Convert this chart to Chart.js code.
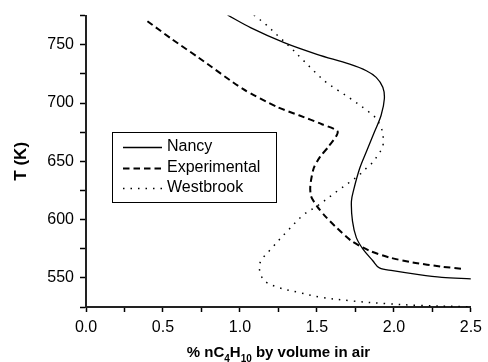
<!DOCTYPE html>
<html><head><meta charset="utf-8">
<script src="https://cdn.jsdelivr.net/npm/chart.js@4.4.0/dist/chart.umd.min.js"></script>
<style>html,body{margin:0;padding:0;background:#fff;}#wrap{width:488px;height:362px;}</style>
</head><body><div id="wrap"><canvas id="c" width="488" height="362"></canvas></div>
<script>
const seriesNames = ['Nancy', 'Experimental', 'Westbrook'];

const nancyX = [0.919, 1.072, 1.287, 1.5, 1.713, 1.821, 1.885, 1.928, 1.938, 1.917, 1.874, 1.821, 1.778, 1.739, 1.724, 1.731, 1.756, 1.799, 1.863, 1.906, 1.992, 2.162, 2.312, 2.5];
const nancyT = [775.5, 764.5, 751.8, 741.8, 733.3, 727.7, 722, 713.5, 703.6, 689.5, 675.3, 658.2, 644, 625.7, 615.7, 598.7, 584.5, 574.7, 564.7, 558.5, 556.2, 552.8, 550.5, 549.1];

const expX = [0.399, 0.56, 0.731, 1.019, 1.244, 1.383, 1.532, 1.635, 1.575, 1.521, 1.479, 1.457, 1.462, 1.5, 1.553, 1.628, 1.724, 1.842, 1.970, 2.12, 2.312, 2.451];
const expT = [770.2, 754.6, 739, 712.1, 696.5, 689.5, 681.8, 675.3, 662.5, 654, 644, 629, 620, 611.5, 603, 593, 581.7, 573.2, 567.5, 563.3, 559.6, 557.7];

const westX = [1.09, 1.169, 1.248, 1.325, 1.404, 1.485, 1.56, 1.639, 1.72, 1.838, 1.885, 1.923, 1.931, 1.923, 1.895, 1.867, 1.825, 1.788, 1.713, 1.639, 1.5, 1.415, 1.308, 1.201, 1.137, 1.126, 1.158, 1.244, 1.372, 1.521, 1.735, 1.949, 2.162, 2.5];
const westT = [775.5, 767.3, 757.5, 748.1, 737.6, 726.9, 717.8, 710.7, 703.6, 692.3, 686.6, 676.7, 666.7, 661, 655.4, 649.7, 644.6, 639.8, 632.1, 625.1, 611.5, 604.4, 590.2, 574.7, 564.7, 557.7, 547.7, 542, 537.8, 533.5, 530.1, 527.9, 526.4, 525.2];

const xLabelTicks = [0, 0.5, 1.0, 1.5, 2.0, 2.5];
const yLabelTicks = [550, 600, 650, 700, 750];
const xTitleParts = [['% nC', false], ['4', true], ['H', false], ['10', true], [' by volume in air', false]];
const yTitle = 'T (K)';

const FONT = "'Liberation Sans', Arial, sans-serif";
const toPts = (xs, ys) => xs.map((x, i) => ({x: x, y: ys[i]}));

const decor = {
  id: 'decor',
  afterDraw(chart) {
    const ctx = chart.ctx;
    ctx.save();
    ctx.fillStyle = '#000';
    // y title
    ctx.font = 'bold 17px ' + FONT;
    ctx.textAlign = 'center';
    ctx.textBaseline = 'middle';
    ctx.translate(21, (chart.chartArea.top + chart.chartArea.bottom) / 2);
    ctx.rotate(-Math.PI / 2);
    ctx.fillText(yTitle, 0, 0);
    ctx.setTransform(1, 0, 0, 1, 0, 0);
    // x title with subscripts
    const big = 'bold 15px ' + FONT, small = 'bold 10px ' + FONT;
    let w = 0;
    xTitleParts.forEach(p => { ctx.font = p[1] ? small : big; w += ctx.measureText(p[0]).width; });
    let x = (chart.chartArea.left + chart.chartArea.right) / 2 - w / 2;
    const base = 356.5;
    ctx.textAlign = 'left';
    ctx.textBaseline = 'alphabetic';
    xTitleParts.forEach(p => {
      ctx.font = p[1] ? small : big;
      ctx.fillText(p[0], x, p[1] ? base + 5 : base);
      x += ctx.measureText(p[0]).width;
    });
    // legend
    const L = 112, T = 132, R = 276, B = 202;
    ctx.strokeStyle = '#000';
    ctx.lineWidth = 1;
    ctx.setLineDash([]);
    ctx.strokeRect(L + 0.5, T + 0.5, R - L, B - T);
    const rows = [147, 168, 188];
    ctx.font = '16px ' + FONT;
    ctx.textBaseline = 'middle';
    chart.data.datasets.forEach((ds, i) => {
      ctx.beginPath();
      ctx.lineWidth = ds.borderWidth;
      ctx.setLineDash(ds.borderDash || []);
      ctx.moveTo(123, rows[i] + 0.5);
      ctx.lineTo(162, rows[i] + 0.5);
      ctx.stroke();
      ctx.setLineDash([]);
      ctx.fillText(ds.label, 167, rows[i]);
    });
    ctx.restore();
  }
};

new Chart(document.getElementById('c'), {
  type: 'scatter',
  data: {
    datasets: [
      {label: seriesNames[0], data: toPts(nancyX, nancyT), showLine: true, pointRadius: 0, borderColor: '#000', borderWidth: 1.3, tension: 0.35, fill: false},
      {label: seriesNames[1], data: toPts(expX, expT), showLine: true, pointRadius: 0, borderColor: '#000', borderWidth: 2, borderDash: [6.5, 4], tension: 0.25, fill: false},
      {label: seriesNames[2], data: toPts(westX, westT), showLine: true, pointRadius: 0, borderColor: '#000', borderWidth: 1.5, borderDash: [1.5, 6], tension: 0.35, fill: false}
    ]
  },
  options: {
    responsive: false,
    animation: false,
    devicePixelRatio: 1,
    layout: {padding: {top: 13, right: 12, left: 0, bottom: 0}},
    plugins: {legend: {display: false}, tooltip: {enabled: false}},
    scales: {
      x: {
        type: 'linear', min: 0, max: 2.5,
        afterFit: s => { s.height = 55; },
        ticks: {
          stepSize: 0.25, autoSkip: false, maxRotation: 0, color: '#000', padding: 6,
          font: {size: 16, family: FONT},
          callback: v => xLabelTicks.some(t => Math.abs(t - v) < 1e-6) ? v.toFixed(1) : ''
        },
        grid: {drawOnChartArea: false, drawTicks: true, tickLength: 5, tickColor: '#000', tickWidth: 1.5},
        border: {color: '#222', width: 2}
      },
      y: {
        type: 'linear', min: 525, max: 775,
        afterFit: s => { s.width = 86; },
        ticks: {
          stepSize: 25, autoSkip: false, color: '#000', padding: 6,
          font: {size: 16, family: FONT},
          callback: v => yLabelTicks.includes(v) ? String(v) : ''
        },
        grid: {drawOnChartArea: false, drawTicks: true, tickLength: 6, tickColor: '#000', tickWidth: 1.5},
        border: {color: '#222', width: 2}
      }
    }
  },
  plugins: [decor]
});
</script>
</body></html>
